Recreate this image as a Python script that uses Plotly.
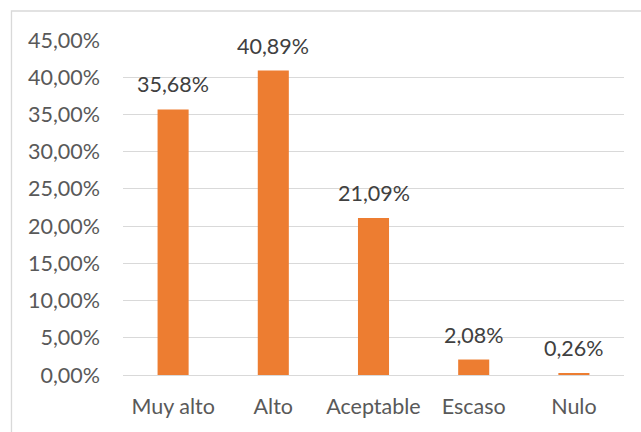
import plotly.graph_objects as go

categories = ["Muy alto", "Alto", "Aceptable", "Escaso", "Nulo"]
values = [35.68, 40.89, 21.09, 2.08, 0.26]
y_ticks = [0, 5, 10, 15, 20, 25, 30, 35, 40, 45]
y_tick_labels = [f"{t:.2f}".replace(".", ",") + "%" for t in y_ticks]

BAR = "#ED7D31"
GRID = "#D9D9D9"
TEXT = "#595959"
FONT = "Lato"
SIZE = 21.5

fig = go.Figure(
    go.Bar(x=categories, y=values, marker=dict(color=BAR, line=dict(width=0)))
)

# value labels above each bar
for c, v in zip(categories, values):
    fig.add_annotation(
        x=c, y=v, yref="y", xref="x",
        text=f"{v:.2f}".replace(".", ",") + "%",
        showarrow=False, yanchor="bottom", yshift=10,
        font=dict(family=FONT, size=SIZE, color="#404040"),
    )

# outer chart frame
fig.add_shape(
    type="rect", xref="paper", yref="paper",
    x0=-0.2226, x1=1.2, y0=-0.3, y1=1.0866,
    line=dict(color=GRID, width=1.3), fillcolor="rgba(0,0,0,0)", layer="below",
)

fig.update_layout(
    width=641, height=432,
    margin=dict(l=123, r=17, t=40, b=57),
    paper_bgcolor="white", plot_bgcolor="white",
    bargap=0.69,
    showlegend=False,
    font=dict(family=FONT, size=SIZE, color=TEXT),
    xaxis=dict(
        showgrid=False, showline=False, ticks="",
        tickfont=dict(family=FONT, size=SIZE, color=TEXT),
        ticklabelstandoff=16,
    ),
    yaxis=dict(
        range=[0, 45], tickmode="array", tickvals=y_ticks, ticktext=y_tick_labels,
        showgrid=True, gridcolor=GRID, gridwidth=1.3,
        zeroline=True, zerolinecolor=GRID, zerolinewidth=1.3,
        showline=False, ticks="",
        tickfont=dict(family=FONT, size=SIZE, color=TEXT),
        ticklabelstandoff=22,
    ),
)

fig.write_html("out.html")
